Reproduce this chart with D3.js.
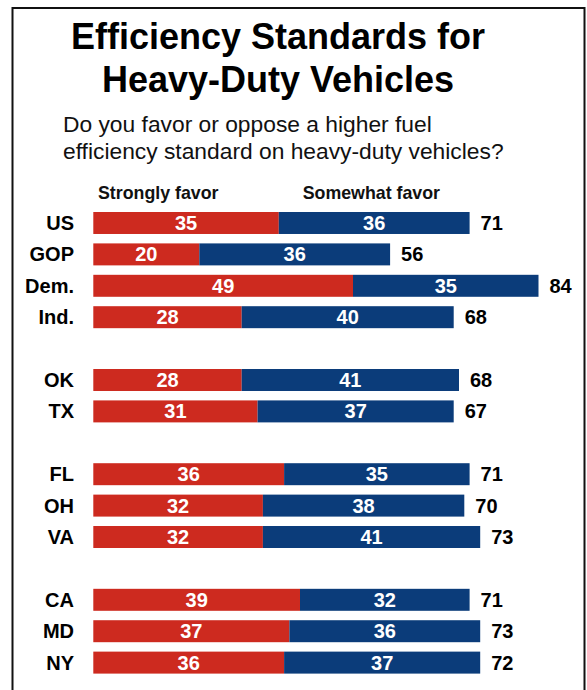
<!DOCTYPE html>
<html>
<head>
<meta charset="utf-8">
<script src="https://cdn.jsdelivr.net/npm/d3@7"></script>
<style>
  html, body { margin: 0; padding: 0; background: #fff; }
  svg { display: block; font-family: "Liberation Sans", Arial, sans-serif; }
</style>
</head>
<body>
<svg id="chart" width="587" height="690"></svg>
<script>
// ---- data ----
const categories = ["US", "GOP", "Dem.", "Ind.", null, "OK", "TX", null, "FL", "OH", "VA", null, "CA", "MD", "NY"];
const stronglyFavor = [35, 20, 49, 28, null, 28, 31, null, 36, 32, 32, null, 39, 37, 36];
const somewhatFavor = [36, 36, 35, 40, null, 41, 37, null, 35, 38, 41, null, 32, 36, 37];
const totalLabels   = [71, 56, 84, 68, null, 68, 67, null, 71, 70, 73, null, 71, 73, 72];
const seriesNames = ["Strongly favor", "Somewhat favor"];
const titleLines = ["Efficiency Standards for", "Heavy-Duty Vehicles"];
const subtitleLines = ["Do you favor or oppose a higher fuel", "efficiency standard on heavy-duty vehicles?"];

const RED = "#cd2a1f", BLUE = "#0b3c7a";

const svg = d3.select("#chart");

// frame
svg.append("rect")
  .attr("x", 12.5).attr("y", 8)
  .attr("width", 572).attr("height", 720)
  .attr("fill", "none").attr("stroke", "#111").attr("stroke-width", 2);

// title
svg.append("g").selectAll("text").data(titleLines).join("text")
  .attr("x", 278).attr("y", (d, i) => 49 + i * 42.7)
  .attr("text-anchor", "middle")
  .attr("font-size", 36).attr("font-weight", "bold").attr("fill", "#000")
  .text(d => d);

// subtitle
svg.append("g").selectAll("text").data(subtitleLines).join("text")
  .attr("x", 63).attr("y", (d, i) => 132.3 + i * 27)
  .attr("font-size", 22.8).attr("fill", "#111")
  .text(d => d);

// rows
const rows = categories.map((c, i) => ({
  key: c === null ? "gap" + i : c,
  label: c,
  s: stronglyFavor[i],
  w: somewhatFavor[i],
  t: totalLabels[i]
}));

const x = d3.scaleLinear().domain([0, 84]).range([93.3, 538.5]);
const y = d3.scaleBand()
  .domain(rows.map(r => r.key))
  .range([212, 212 + 14 * 31.4 + 22])
  .paddingInner(0.3).paddingOuter(0);

const data = rows.filter(r => r.label !== null);

// legend
svg.append("text").attr("x", 98).attr("y", 199.3)
  .attr("font-size", 17.8).attr("font-weight", "bold").attr("fill", "#111")
  .text(seriesNames[0]);
svg.append("text").attr("x", 302.7).attr("y", 199.3)
  .attr("font-size", 17.8).attr("font-weight", "bold").attr("fill", "#111")
  .text(seriesNames[1]);

const g = svg.append("g");

const row = g.selectAll("g.row").data(data).join("g").attr("class", "row");

// category labels
row.append("text")
  .attr("x", 74)
  .attr("y", d => y(d.key) + y.bandwidth() / 2)
  .attr("dy", "0.35em")
  .attr("text-anchor", "end")
  .attr("font-size", 20).attr("font-weight", "bold").attr("fill", "#000")
  .text(d => d.label);

// red segment
row.append("rect")
  .attr("x", x(0))
  .attr("y", d => y(d.key))
  .attr("width", d => x(d.s) - x(0))
  .attr("height", y.bandwidth())
  .attr("fill", RED);

// blue segment
row.append("rect")
  .attr("x", d => x(d.s))
  .attr("y", d => y(d.key))
  .attr("width", d => x(d.s + d.w) - x(d.s))
  .attr("height", y.bandwidth())
  .attr("fill", BLUE);

// value labels
row.append("text")
  .attr("x", d => (x(0) + x(d.s)) / 2)
  .attr("y", d => y(d.key) + y.bandwidth() / 2)
  .attr("dy", "0.35em").attr("text-anchor", "middle")
  .attr("font-size", 20).attr("font-weight", "bold").attr("fill", "#fff")
  .text(d => d.s);

row.append("text")
  .attr("x", d => (x(d.s) + x(d.s + d.w)) / 2)
  .attr("y", d => y(d.key) + y.bandwidth() / 2)
  .attr("dy", "0.35em").attr("text-anchor", "middle")
  .attr("font-size", 20).attr("font-weight", "bold").attr("fill", "#fff")
  .text(d => d.w);

// totals
row.append("text")
  .attr("x", d => x(d.s + d.w) + 11)
  .attr("y", d => y(d.key) + y.bandwidth() / 2)
  .attr("dy", "0.35em")
  .attr("font-size", 20).attr("font-weight", "bold").attr("fill", "#000")
  .text(d => d.t);
</script>
</body>
</html>
